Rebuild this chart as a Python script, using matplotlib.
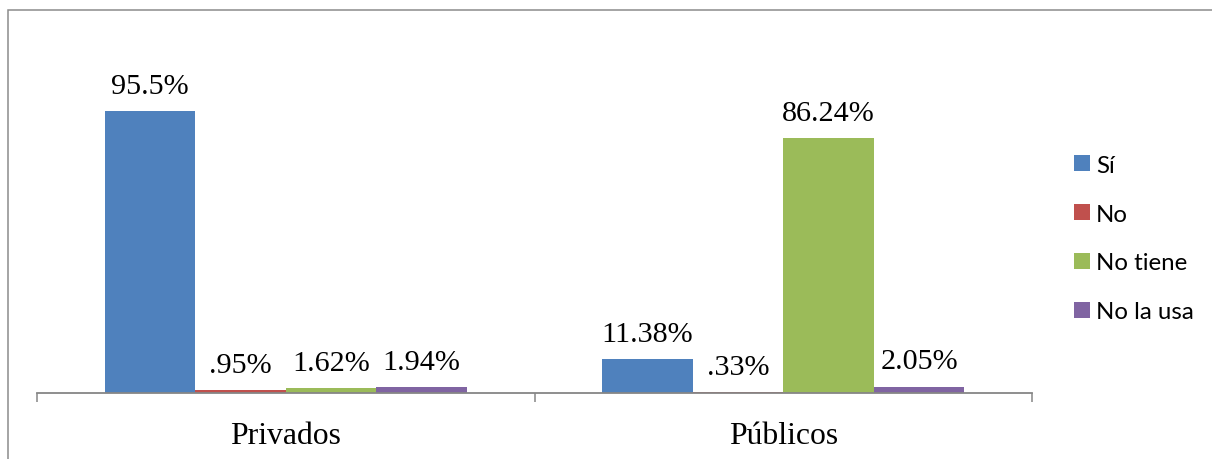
import matplotlib
matplotlib.use("Agg")
import matplotlib.pyplot as plt
from matplotlib.patches import Rectangle
import numpy as np

# Survey results by school type (percent)
categories = ['Privados', 'Públicos']
series_names = ['Sí', 'No', 'No tiene', 'No la usa']
values = {
    'Sí': [95.5, 11.38],
    'No': [0.95, 0.33],
    'No tiene': [1.62, 86.24],
    'No la usa': [1.94, 2.05],
}
value_labels = {
    'Sí': ['95.5%', '11.38%'],
    'No': ['.95%', '.33%'],
    'No tiene': ['1.62%', '86.24%'],
    'No la usa': ['1.94%', '2.05%'],
}
colors = ['#4F81BD', '#C0504D', '#9BBB59', '#8064A2']

W, H, DPI = 1212, 460, 100
fig = plt.figure(figsize=(W / DPI, H / DPI), dpi=DPI)

# plot area in pixels: x 37..1032, baseline at y=394
left, right = 37 / W, 1032 / W
bottom = (H - 394) / H
ymax = 120
top_px = 394 - ymax * 2.953
ax = fig.add_axes([left, bottom, right - left, (394 - top_px) / H])

x = np.arange(len(categories))
bar_w = 90.5 / 497.5
serif = 'Liberation Serif'

handles = []
for i, name in enumerate(series_names):
    offs = (i - 1.5) * bar_w
    bars = ax.bar(x + offs, values[name], width=bar_w, color=colors[i],
                  edgecolor='none', label=name)
    handles.append(bars)
    for xi, v, lab in zip(x + offs, values[name], value_labels[name]):
        ax.annotate(lab, xy=(xi, v), xytext=(0, 13.3), textcoords='offset points',
                    ha='center', va='baseline', fontsize=21.7, family=serif)

ax.set_xlim(-0.5, 1.5)
ax.set_ylim(0, ymax)
for s in ['left', 'right', 'top']:
    ax.spines[s].set_visible(False)
ax.spines['bottom'].set_color('#868686')
ax.spines['bottom'].set_linewidth(1.3)
ax.set_yticks([])

ax.set_xticks([-0.5, 0.5, 1.5])
ax.set_xticklabels([])
ax.tick_params(axis='x', which='major', length=6.5, width=1.1, color='#868686', direction='out')
ax.set_xticks(x, minor=True)
ax.set_xticklabels(categories, minor=True, fontsize=22.8, family=serif)
ax.tick_params(axis='x', which='minor', length=0, pad=20.5)

fig.legend(handles=handles, labels=series_names, loc='center left',
           bbox_to_anchor=(1074 / W, 1 - 239.5 / H), frameon=False,
           borderpad=0, borderaxespad=0, prop={'family': 'Lato', 'size': 17.3},
           handlelength=0.67, handleheight=0.67, handletextpad=0.25,
           labelspacing=1.16)

# outer chart border
fig.patches.append(Rectangle((7.5 / W, -0.1), 1.2, (H - 11) / H + 0.1,
                             transform=fig.transFigure, fill=False,
                             edgecolor='#8C8C8C', linewidth=1.1))

fig.savefig('out.png', dpi=DPI)
